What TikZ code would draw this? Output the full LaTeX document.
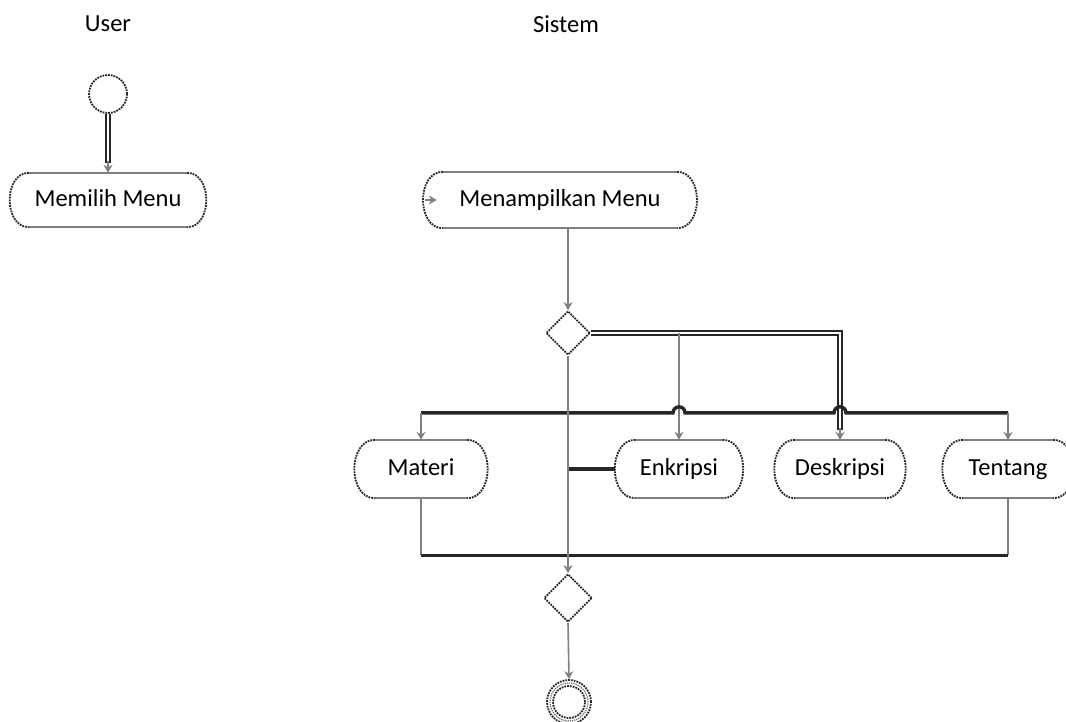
\documentclass[tikz,border=0pt]{standalone}
\usepackage{fontspec}
\setmainfont{Carlito}
\usetikzlibrary{shapes.geometric,arrows.meta,calc}

\begin{document}
\begin{tikzpicture}[x=1pt,y=-1pt,
  every node/.style={font=\fontsize{24.5}{29}\selectfont},
  act/.style={rectangle, inner sep=0pt, minimum height=56pt,
              text height=17pt, text depth=5pt},
  rim/.style={draw=black!50, line width=1.5pt},
  arcrim/.style={draw=black!85, line width=1.8pt, densely dotted},
  dec/.style={diamond, draw=black!85, line width=1.8pt, densely dotted,
              minimum size=44pt, inner sep=0pt},
  terminal/.style={circle, draw=black!85, line width=1.8pt, densely dotted, inner sep=0pt},
  flow/.style={draw=black!50, line width=1.6pt},
  heavy/.style={draw=black!85, line width=3.4pt},
  dbl/.style={draw=black!85, line width=1.6pt, double=white, double distance=2.4pt},
  tip/.style={-{Stealth[length=8pt,width=9pt]}},
]
\useasboundingbox (0,0) rectangle (1066,721);

% swimlane titles
\node (userlbl) at (108,24) {User};
\node (syslbl) at (566,24) {Sistem};

% activities
\node[terminal, minimum size=38pt] (start) at (108,94) {};
\node[act, minimum width=198pt, minimum height=54pt] (memilih) at (108,200) {Memilih Menu};
\node[act, minimum width=274pt] (menampilkan) at (560,200) {Menampilkan Menu};
\node[dec] (dec1) at (568,333) {};
\node[act, minimum width=132pt, minimum height=58pt] (materi) at (421,469) {Materi};
\node[act, minimum width=127pt, minimum height=58pt] (enkripsi) at (679,469) {Enkripsi};
\node[act, minimum width=130pt, minimum height=58pt] (deskripsi) at (840,469) {Deskripsi};
\node[act, minimum width=130pt, minimum height=58pt] (tentang) at (1008,469) {Tentang};
\node[dec, minimum size=48pt] (dec2) at (568,598) {};
\node[terminal, minimum size=44pt] (final) at (569,702) {};
\draw[arcrim] (final.center) circle[radius=16pt];
\draw[draw=black!60, line width=1.2pt, densely dotted] (final.center) circle[radius=19pt];

% rounded activity outlines
\foreach \n in {memilih,menampilkan,materi,enkripsi,deskripsi,tentang}{
  \draw[rim] ($(\n.north west)+(20,0)$) -- ($(\n.north east)+(-20,0)$);
  \draw[rim] ($(\n.south west)+(20,0)$) -- ($(\n.south east)+(-20,0)$);
  \draw[arcrim] ($(\n.north west)+(20,0)$) to[out=180,in=180,looseness=1.2] ($(\n.south west)+(20,0)$);
  \draw[arcrim] ($(\n.north east)+(-20,0)$) to[out=0,in=0,looseness=1.2] ($(\n.south east)+(-20,0)$);
}

% start -> Memilih Menu
\draw[dbl, shorten >=10pt] (start.south) -- (memilih.north);
\draw[flow, tip] ($(memilih.north)+(0,-12)$) -- (memilih.north);

% entry mark on Menampilkan Menu
\coordinate (entry) at ($(menampilkan.west)+(2,0)$);
\draw[flow, tip] (entry) -- ($(menampilkan.west)+(14,0)$);

% Menampilkan Menu -> first decision
\draw[flow, tip] (dec1.north |- menampilkan.south) -- (dec1.north);

% decision branches
\coordinate (k1) at (deskripsi.north |- dec1.east);
\coordinate (k2) at (enkripsi.north |- dec1.east);
\draw[dbl, shorten >=10pt] (dec1.east) -- (k1) -- (deskripsi.north);
\draw[flow, tip] ($(deskripsi.north)+(0,-12)$) -- (deskripsi.north);
\draw[flow, tip] (k2) -- (enkripsi.north);

% bus over the activities, hopping over the crossing lines
\coordinate (h1) at ($(materi.north)+(0,-27)$);
\coordinate (h2) at (tentang.north |- h1);
\draw[heavy] (h1) -- ($(enkripsi.north |- h1)+(-6,0)$)
  arc[start angle=180, end angle=0, radius=6pt]
  -- ($(deskripsi.north |- h1)+(-6,0)$)
  arc[start angle=180, end angle=0, radius=6pt]
  -- (h2);
\draw[flow, tip] (h1) -- (materi.north);
\draw[flow, tip] (h2) -- (tentang.north);

% Enkripsi joins the main line
\draw[heavy] (enkripsi.west) -- (enkripsi.west -| dec1.south);

% merge below the activities
\coordinate (b1) at ($(materi.south)+(0,57)$);
\coordinate (b2) at (tentang.south |- b1);
\draw[flow] (materi.south) -- (b1);
\draw[flow] (tentang.south) -- (b2);
\draw[heavy] (b1) -- (b2);

% main line down to the end
\draw[flow, tip] (dec1.south) -- (dec2.north);
\draw[flow, tip] (dec2.south) -- (final.north);
\end{tikzpicture}
\end{document}
